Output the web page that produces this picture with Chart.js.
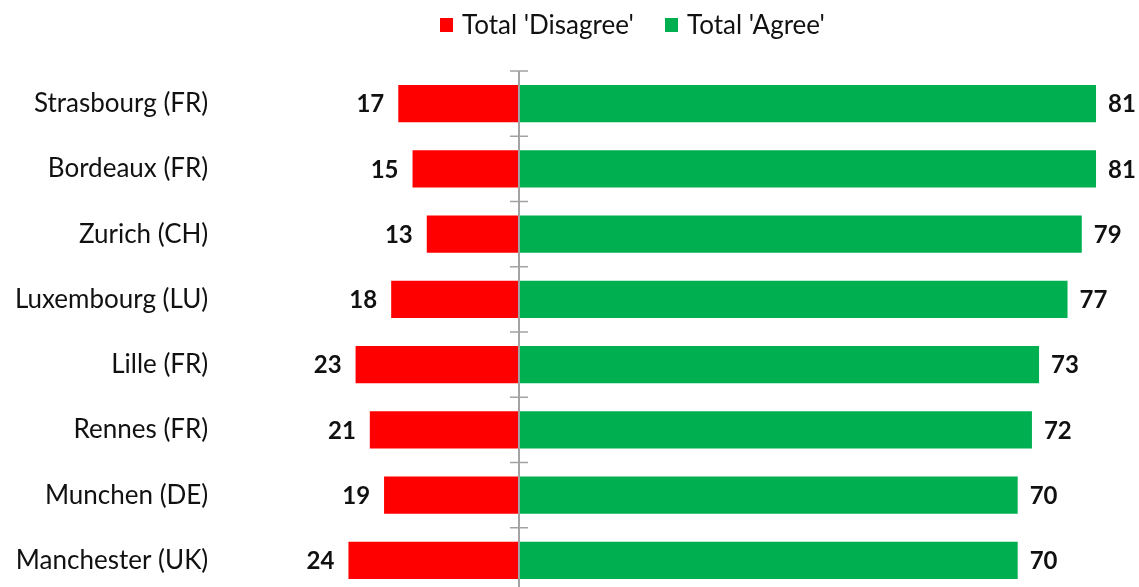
<!DOCTYPE html>
<html>
<head>
<meta charset="utf-8">
<script src="https://cdn.jsdelivr.net/npm/chart.js@4/dist/chart.umd.min.js"></script>
<style>
html,body{margin:0;padding:0;background:#fff;overflow:hidden;}
#wrap{width:1139px;height:587px;position:relative;overflow:hidden;}
canvas{display:block;}
</style>
</head>
<body>
<div id="wrap"><canvas id="c" width="1139" height="593"></canvas></div>
<script>
const categories = ["Strasbourg (FR)","Bordeaux (FR)","Zurich (CH)","Luxembourg (LU)","Lille (FR)","Rennes (FR)","Munchen (DE)","Manchester (UK)"];
const disagree = [17,15,13,18,23,21,19,24];
const agree = [81,81,79,77,73,72,70,70];
const seriesNames = ["Total 'Disagree'","Total 'Agree'"];
const seriesColors = ['#ff0000','#00b050'];

const FONT = "Lato, 'Open Sans', sans-serif";
const TEXT = '#111111';

const overlayPlugin = {
  id: 'overlay',
  afterDatasetsDraw(chart) {
    const ctx = chart.ctx, xs = chart.scales.x, ys = chart.scales.y, ca = chart.chartArea;
    const x0 = Math.round(xs.getPixelForValue(0));
    ctx.save();
    // zero axis with tick marks between categories
    ctx.strokeStyle = '#a3a3a3';
    ctx.lineWidth = 2;
    ctx.beginPath();
    ctx.moveTo(x0, ca.top);
    ctx.lineTo(x0, ca.bottom);
    ctx.stroke();
    ctx.lineWidth = 1.6;
    ctx.beginPath();
    for (let i = 0; i < categories.length; i++) {
      const y = ys.getPixelForValue(i - 0.5);
      ctx.moveTo(x0 - 9, y);
      ctx.lineTo(x0 + 9, y);
    }
    ctx.stroke();
    // value labels
    ctx.fillStyle = TEXT;
    ctx.font = "bold 24px " + FONT;
    ctx.textBaseline = 'middle';
    chart.data.datasets.forEach((ds, di) => {
      const meta = chart.getDatasetMeta(di);
      meta.data.forEach((bar, i) => {
        const v = Math.abs(ds.data[i]);
        if (ds.data[i] < 0) {
          ctx.textAlign = 'right';
          ctx.fillText(String(v), bar.x - 14, bar.y + 1);
        } else {
          ctx.textAlign = 'left';
          ctx.fillText(String(v), bar.x + 12, bar.y + 1);
        }
      });
    });
    // legend
    ctx.font = "26px " + FONT;
    ctx.textAlign = 'left';
    const legendX = [440, 665];
    chart.data.datasets.forEach((ds, di) => {
      ctx.fillStyle = ds.backgroundColor;
      ctx.fillRect(legendX[di], 18, 13, 14);
      ctx.fillStyle = TEXT;
      ctx.fillText(ds.label, legendX[di] + 22, 26);
    });
    ctx.restore();
  }
};

new Chart(document.getElementById('c'), {
  type: 'bar',
  data: {
    labels: categories,
    datasets: [
      { label: seriesNames[0], data: disagree.map(v => -v), backgroundColor: seriesColors[0], borderWidth: 0 },
      { label: seriesNames[1], data: agree, backgroundColor: seriesColors[1], borderWidth: 0 }
    ]
  },
  options: {
    indexAxis: 'y',
    responsive: false,
    animation: false,
    layout: { padding: { left: 0, right: 14.5, top: 71, bottom: 0 } },
    datasets: { bar: { barPercentage: 0.571, categoryPercentage: 1.0 } },
    scales: {
      x: { stacked: true, display: false, min: -42, max: 85 },
      y: {
        stacked: true,
        grid: { display: false, drawTicks: false },
        border: { display: false },
        ticks: { color: TEXT, font: { family: FONT, size: 26 }, padding: 12 },
        afterFit(scale) { scale.width = 220.3; scale.paddingTop = 0; scale.paddingBottom = 0; }
      }
    },
    plugins: {
      legend: { display: false },
      tooltip: { enabled: false }
    }
  },
  plugins: [overlayPlugin]
});
</script>
</body>
</html>
